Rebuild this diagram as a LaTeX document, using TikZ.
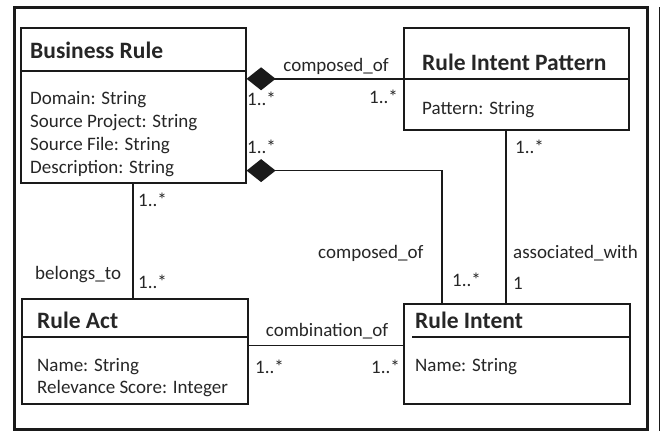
\documentclass[tikz,border=0pt]{standalone}
\usepackage{fontspec}
\setmainfont{Carlito}
\usetikzlibrary{arrows.meta,calc}
\definecolor{ink}{HTML}{1A1A1A}
\definecolor{txt}{HTML}{262626}
\tikzset{
  umlbox/.style={draw=ink, line width=1.6pt, inner sep=0pt, anchor=north west},
  sepline/.style={draw=ink, line width=1.6pt},
  conn/.style={draw=ink, line width=1.4pt},
  comp/.style={conn, {Diamond[length=29pt,width=23pt]}-},
  head/.style={font=\fontsize{23.5}{26}\selectfont\bfseries, text=txt, inner sep=0pt, anchor=west},
  attr/.style={font=\fontsize{19}{22}\selectfont, text=txt, inner sep=0pt, anchor=west, align=left},
  lab/.style={font=\fontsize{19}{20}\selectfont, text=txt, inner sep=0pt},
}
\begin{document}
\begin{tikzpicture}[x=1pt,y=-1pt]
\useasboundingbox (0,0) rectangle (661,431);
% outer frame
\draw[ink, line width=3pt] (14,7) rectangle (647,429);
\draw[ink, line width=1.5pt] (659.5,7) -- (659.5,431);

% boxes
\node[umlbox, minimum width=225pt, minimum height=155pt] (br) at (20,27) {};
\node[umlbox, minimum width=225pt, minimum height=102pt] (rip) at (403,27) {};
\node[umlbox, minimum width=226pt, minimum height=105pt] (ra) at (21,298) {};
\node[umlbox, minimum width=226pt, minimum height=100pt] (ri) at (403,303) {};

% separators
\draw[sepline] ($(br.north west)+(0,44)$) -- ($(br.north east)+(0,44)$);
\draw[sepline] ($(rip.north west)+(0,52)$) -- ($(rip.north east)+(0,52)$);
\draw[sepline] ($(ra.north west)+(0,39)$) -- ($(ra.north east)+(0,39)$);
\draw[sepline] ($(ri.north west)+(9,34)$) -- ($(ri.north east)+(0,34)$);

% headers
\node[head] (brh) at (30,50) {Business Rule};
\node[head] (riph) at (422,62) {Rule Intent Pattern};
\node[head] (rah) at (37,320) {Rule Act};
\node[head] (rih) at (415,320) {Rule Intent};

% attributes
\node[attr] (bra1) at (30,100) {Domain: String};
\node[attr] (bra2) at (30,123) {Source Project: String};
\node[attr] (bra3) at (30,146) {Source File: String};
\node[attr] (bra4) at (30,169) {Description: String};
\node[attr] (ripa) at (422,110) {Pattern: String};
\node[attr] (raa1) at (37,367) {Name: String};
\node[attr] (raa2) at (37,389) {Relevance Score: Integer};
\node[attr] (ria) at (415,367) {Name: String};

% connectors
\draw[comp] (br.east |- rip.west) -- (rip.west);
\coordinate (c2s) at ($(br.south east)+(0,-13)$);
\coordinate (c2e) at ($(ri.north west)+(39,0)$);
\draw[comp] (c2s) -| (c2e);
\coordinate (c3s) at ($(br.south west)+(113,0)$);
\draw[conn] (c3s) -- (c3s |- ra.north);
\coordinate (c4s) at ($(rip.south west)+(103,0)$);
\draw[conn] (c4s) -- (c4s |- ri.north);
\coordinate (c5s) at ($(ra.south east)+(0,-59)$);
\draw[conn] (c5s) -- (c5s -| ri.west);

% labels
\node[lab] (l1) at (336,66) {composed\_of};
\node[lab, anchor=west] (l2) at (247,99) {1..*};
\node[lab, anchor=east] (l3) at (398,97) {1..*};
\node[lab, anchor=west] (l4) at (247,147) {1..*};
\node[lab, anchor=west] (l5) at (515,147) {1..*};
\node[lab, anchor=west] (l6) at (138,200) {1..*};
\node[lab, anchor=west] (l7) at (35,275) {belongs\_to};
\node[lab, anchor=west] (l8) at (138,282) {1..*};
\node[lab, anchor=west] (l9) at (318,253) {composed\_of};
\node[lab, anchor=west] (l10) at (452,280) {1..*};
\node[lab, anchor=west] (l11) at (513,253) {associated\_with};
\node[lab, anchor=west] (l12) at (513,283) {1};
\node[lab] (l13) at (327,331) {combination\_of};
\node[lab, anchor=west] (l14) at (255,367) {1..*};
\node[lab, anchor=east] (l15) at (400,367) {1..*};
\end{tikzpicture}
\end{document}
